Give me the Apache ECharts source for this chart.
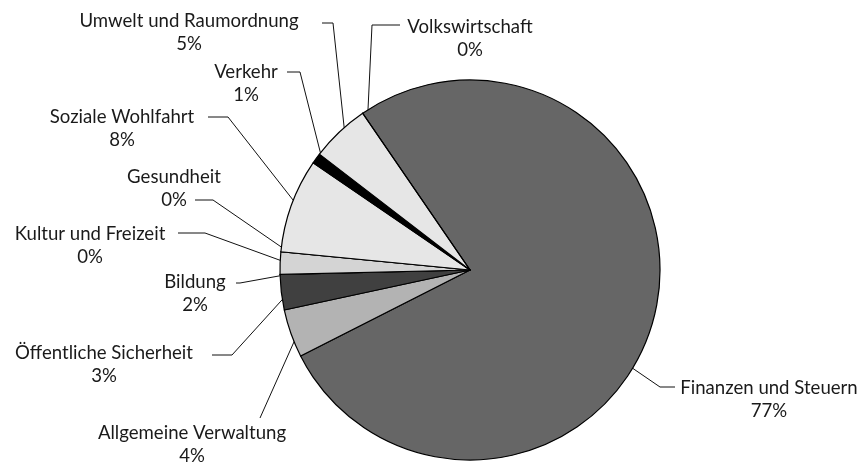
<!DOCTYPE html>
<html>
<head>
<meta charset="utf-8">
<script src="https://cdn.jsdelivr.net/npm/echarts@6/dist/echarts.min.js"></script>
<style>
    html, body { margin: 0; padding: 0; background: #fff; }
    #pie { width: 862px; height: 463px; }
</style>
</head>
<body>
<div id="pie"></div>
<script>
// slices in clockwise order, starting at the top-left edge of "Finanzen"
var categories = ["Finanzen und Steuern", "Allgemeine Verwaltung", "Öffentliche Sicherheit", "Bildung",
    "Kultur und Freizeit", "Gesundheit", "Soziale Wohlfahrt", "Verkehr", "Umwelt und Raumordnung", "Volkswirtschaft"];
var values = [77.0, 4.1, 3.0, 0, 1.9, 0, 8.0, 0.9, 5.0, 0];
var shareLabels = ["77%", "4%", "3%", "2%", "0%", "0%", "8%", "1%", "5%", "0%"];
var colors = ["#666666", "#b3b3b3", "#404040", "#404040", "#d4d4d4", "#d4d4d4", "#e6e6e6", "#000000", "#e6e6e6", "#e6e6e6"];

// label block centre, line end, elbow x, where along the slice the line points
var labelSpots = [
    [769, 399, 675, 387, 660, 0.56],
    [192, 444, 260, 418, 260, 0.5],
    [104, 364, 212, 355, 232, 0.5],
    [195, 293, 236, 283, 240, 0.5],
    [90, 245, 178, 233, 205, 0.5],
    [174, 188, 195, 200, 213, 0.5],
    [122, 128, 208, 117, 228, 0.5],
    [246, 83, 287, 72, 300, 0.5],
    [189, 32, 322, 23, 333, 0.5],
    [470, 38, 400, 25, 372, 0.5]
];

var pieX = 470, pieY = 270, pieR = 190, startAngle = 124.4;

var total = 0;
for (var i = 0; i < values.length; i++) total += values[i];

function anchorPoint(idx, along) {
    var before = 0;
    for (var k = 0; k < idx; k++) before += values[k];
    var deg = startAngle - (before + values[idx] * along) / total * 360;
    var rad = deg * Math.PI / 180;
    return [pieX + 0.955 * pieR * Math.cos(rad), pieY - 0.955 * pieR * Math.sin(rad)];
}

var data = [];
for (var j = 0; j < categories.length; j++) {
    data.push({name: categories[j], value: values[j], itemStyle: {color: colors[j]}});
}

var myChart = echarts.init(document.getElementById("pie"));
var option = {
    animation: false,
    series: [{
        type: "pie",
        center: [pieX, pieY],
        radius: pieR,
        startAngle: startAngle,
        clockwise: true,
        avoidLabelOverlap: false,
        minShowLabelAngle: -1,
        itemStyle: {borderColor: "#000", borderWidth: 1.2},
        label: {
            show: true,
            position: "outside",
            fontFamily: "Lato",
            fontSize: 18.6,
            lineHeight: 23,
            color: "#1a1a1a",
            align: "center",
            formatter: function(p) {
                return p.name + "\n" + shareLabels[p.dataIndex];
            }
        },
        labelLine: {show: true, smooth: false, lineStyle: {color: "#111", width: 1}},
        labelLayout: function(params) {
            var s = labelSpots[params.dataIndex];
            var start = anchorPoint(params.dataIndex, s[5]);
            return {
                x: s[0],
                y: s[1],
                align: "center",
                verticalAlign: "middle",
                labelLinePoints: [start, [s[4], s[3]], [s[2], s[3]]]
            };
        },
        data: data
    }]
};
myChart.setOption(option);
</script>
</body>
</html>
